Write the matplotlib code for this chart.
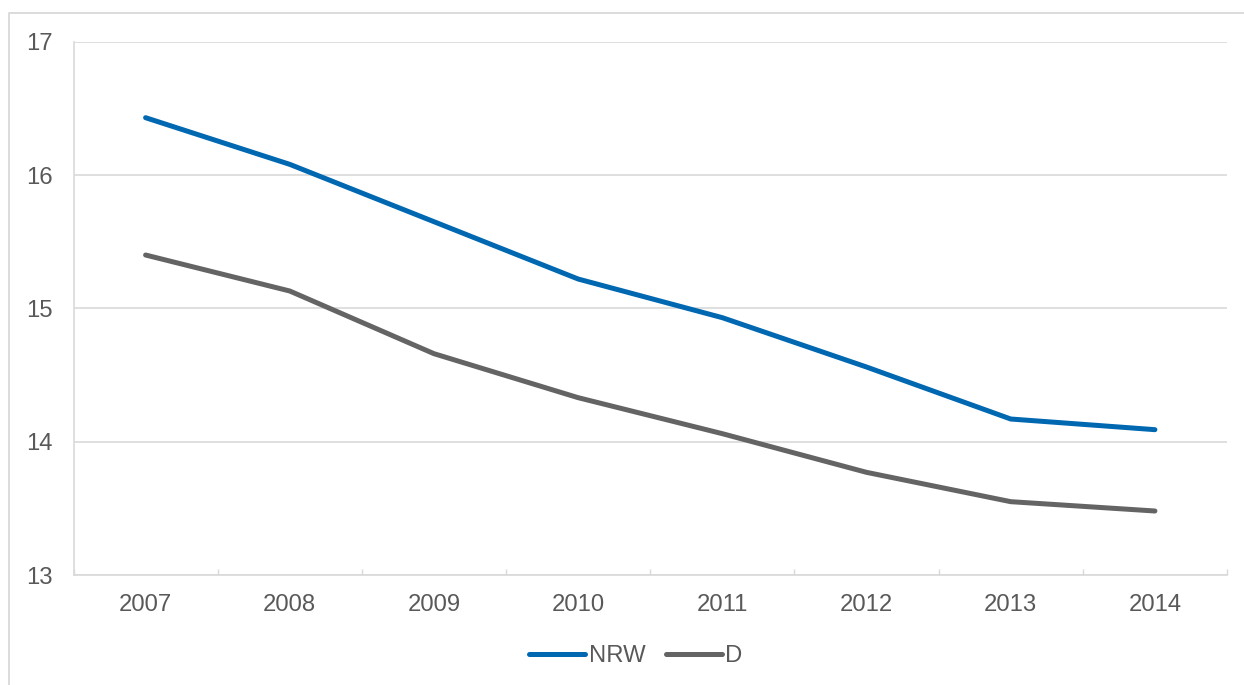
import matplotlib
matplotlib.use("Agg")
import matplotlib.pyplot as plt
from matplotlib.lines import Line2D

# Data
years = ["2007", "2008", "2009", "2010", "2011", "2012", "2013", "2014"]
nrw = [16.43, 16.08, 15.65, 15.22, 14.93, 14.56, 14.17, 14.09]
d = [15.40, 15.13, 14.66, 14.33, 14.06, 13.77, 13.55, 13.48]
y_ticks = [13, 14, 15, 16, 17]
series_names = ["NRW", "D"]

BLUE = "#0067b1"
GREY = "#646464"
GRID = "#d9d9d9"
TEXT = "#595959"
FONT = "Liberation Sans"
FS = 17.2

W, H = 1244, 685
fig = plt.figure(figsize=(W / 100, H / 100), dpi=100)

# plot area in pixel coordinates
left, right, top, bottom = 73.5, 1227, 41.7, 575
ax = fig.add_axes([left / W, 1 - bottom / H, (right - left) / W, (bottom - top) / H])

x = list(range(len(years)))
ax.plot(x, nrw, color=BLUE, lw=3.6, solid_capstyle="round", solid_joinstyle="round", label=series_names[0])
ax.plot(x, d, color=GREY, lw=3.6, solid_capstyle="round", solid_joinstyle="round", label=series_names[1])

ax.set_xlim(-0.5, len(years) - 0.5)
ax.set_ylim(13, 17)
ax.set_yticks(y_ticks)
ax.set_yticklabels([str(v) for v in y_ticks], fontfamily=FONT, fontsize=FS, color=TEXT)
ax.tick_params(axis="y", length=0, pad=15)

# category labels at centres, tick marks at category boundaries
ax.set_xticks(x)
ax.set_xticklabels(years, fontfamily=FONT, fontsize=FS, color=TEXT)
ax.tick_params(axis="x", which="major", length=0, pad=13.5)
ax.set_xticks([i - 0.5 for i in range(len(years) + 1)], minor=True)
ax.tick_params(axis="x", which="minor", direction="in", length=4.5, width=1, color=GRID)

ax.grid(axis="y", color=GRID, lw=1.2)
ax.set_axisbelow(True)
for side in ["top", "right"]:
    ax.spines[side].set_visible(False)
ax.spines["left"].set_color(GRID)
ax.spines["left"].set_linewidth(1.2)
ax.spines["bottom"].set_color(GRID)
ax.spines["bottom"].set_linewidth(1.2)

leg = fig.legend(
    loc="center", bbox_to_anchor=(636 / W, 1 - 656 / H), ncol=2, frameon=False,
    prop={"family": FONT, "size": FS}, handlelength=2.34, handletextpad=0.15,
    columnspacing=0.85, borderaxespad=0,
)
for t in leg.get_texts():
    t.set_color(TEXT)

# outer chart border (left and top edges)
fig.add_artist(Line2D([8.5 / W, 8.5 / W, 1.0], [0, 1 - 12.5 / H, 1 - 12.5 / H],
                      transform=fig.transFigure, color=GRID, lw=1.3))

fig.savefig("out.png", dpi=100, facecolor="white")
